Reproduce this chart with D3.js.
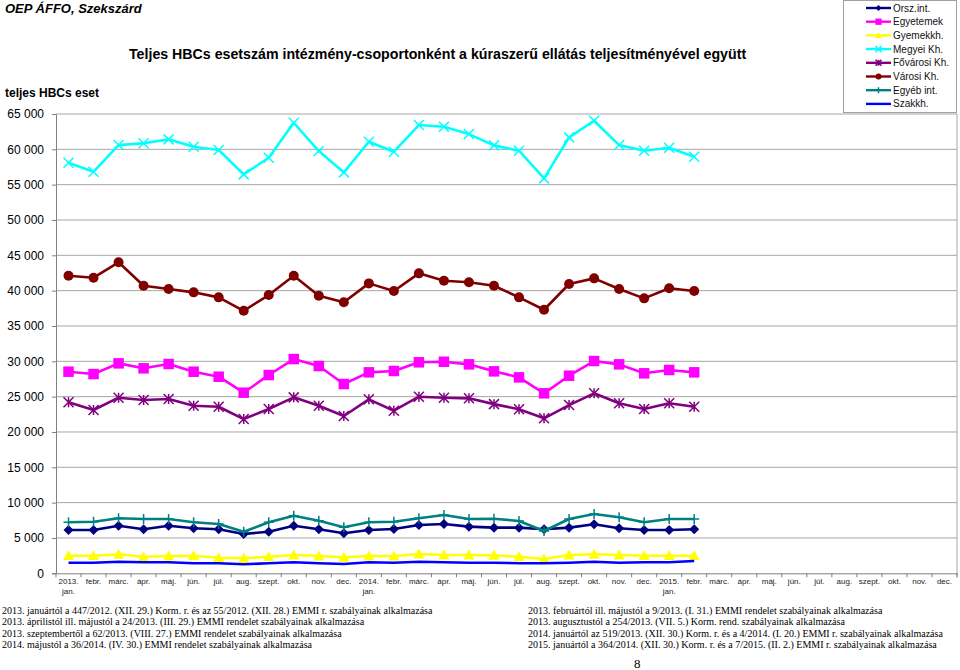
<!DOCTYPE html>
<html>
<head>
<meta charset="utf-8">
<script src="https://cdn.jsdelivr.net/npm/d3@7/dist/d3.min.js"></script>
<style>
  html, body { margin: 0; padding: 0; background: #fff; }
  svg { display: block; }
</style>
</head>
<body>
<svg id="chart" width="960" height="670"></svg>
<script>
// ---- DATA ----
const months = ["2013.|jan.", "febr.", "márc.", "ápr.", "máj.", "jún.", "júl.", "aug.", "szept.", "okt.", "nov.", "dec.",
                "2014.|jan.", "febr.", "márc.", "ápr.", "máj.", "jún.", "júl.", "aug.", "szept.", "okt.", "nov.", "dec.",
                "2015.|jan.", "febr.", "márc.", "ápr.", "máj.", "jún.", "júl.", "aug.", "szept.", "okt.", "nov.", "dec."];

const yTicks = [0, 5000, 10000, 15000, 20000, 25000, 30000, 35000, 40000, 45000, 50000, 55000, 60000, 65000];

const orszInt   = [6130, 6130, 6740, 6230, 6740, 6370, 6230, 5560, 5890, 6740, 6230, 5660, 6130, 6270, 6830, 6980, 6600, 6460, 6460, 6230, 6460, 6930, 6370, 6130, 6130, 6230];
const egyetemek = [28530, 28200, 29710, 29010, 29620, 28530, 27820, 25560, 28060, 30320, 29330, 26790, 28440, 28630, 29860, 29940, 29570, 28580, 27730, 25470, 27960, 30040, 29570, 28300, 28770, 28440];
const gyermekkh = [2490, 2490, 2690, 2350, 2450, 2490, 2210, 2120, 2350, 2590, 2450, 2260, 2450, 2450, 2730, 2590, 2590, 2540, 2350, 2020, 2590, 2690, 2590, 2490, 2490, 2490];
const megyeiKh  = [58100, 56830, 60600, 60850, 61410, 60360, 59900, 56460, 58810, 63760, 59760, 56740, 61070, 59660, 63440, 63190, 62160, 60560, 59800, 55890, 61690, 64040, 60600, 59800, 60220, 58950];
const fovarosiKh= [24200, 23110, 24850, 24520, 24660, 23720, 23570, 21830, 23250, 24900, 23720, 22260, 24620, 23010, 24990, 24850, 24760, 23940, 23210, 21930, 23810, 25470, 24060, 23250, 24060, 23570];
const varosiKh  = [42110, 41830, 44010, 40700, 40230, 39760, 39050, 37150, 39380, 42110, 39280, 38350, 41030, 39950, 42450, 41400, 41180, 40700, 39050, 37300, 40940, 41740, 40230, 38910, 40330, 39950];
const egyebInt  = [7220, 7300, 7780, 7680, 7680, 7220, 6980, 5890, 7220, 8150, 7440, 6510, 7220, 7300, 7780, 8250, 7680, 7730, 7400, 5990, 7680, 8390, 7920, 7220, 7680, 7680];
const szakkh    = [1500, 1500, 1640, 1560, 1560, 1420, 1420, 1270, 1420, 1560, 1420, 1320, 1560, 1500, 1640, 1560, 1500, 1500, 1420, 1420, 1500, 1640, 1500, 1560, 1560, 1740];

const seriesNames = ["Orsz.int.", "Egyetemek", "Gyemekkh.", "Megyei Kh.", "Fővárosi Kh.", "Városi Kh.", "Egyéb int.", "Szakkh."];

const notesLeft = [
  "2013. januártól a 447/2012. (XII. 29.) Korm. r. és az 55/2012. (XII. 28.) EMMI r. szabályainak alkalmazása",
  "2013. áprilistól ill. májustól a 24/2013. (III. 29.) EMMI rendelet szabályainak alkalmazása",
  "2013. szeptembertől a 62/2013. (VIII. 27.) EMMI rendelet szabályainak alkalmazása",
  "2014. májustól a 36/2014. (IV. 30.) EMMI rendelet szabályainak alkalmazása"
];
const notesRight = [
  "2013. februártól ill. májustól a 9/2013. (I. 31.) EMMI rendelet szabályainak alkalmazása",
  "2013. augusztustól a 254/2013. (VII. 5.) Korm. rend. szabályainak alkalmazása",
  "2014. januártól az 519/2013. (XII. 30.) Korm. r. és a 4/2014. (I. 20.) EMMI r. szabályainak alkalmazása",
  "2015. januártól a 364/2014. (XII. 30.) Korm. r. és a 7/2015. (II. 2.) EMMI r. szabályainak alkalmazása"
];

// ---- STYLE ----
const seriesData = [orszInt, egyetemek, gyermekkh, megyeiKh, fovarosiKh, varosiKh, egyebInt, szakkh];
const colors  = ["#000080", "#ff00ff", "#ffff00", "#00ffff", "#800080", "#800000", "#008080", "#0000ff"];
const markers = ["diamond", "square", "triangle", "x", "asterisk", "circle", "plus", "none"];

const svg = d3.select("#chart");
const pL = 56, pR = 957, pT = 114, pB = 573.3;

const x = d3.scaleBand().domain(months.map((m, i) => i)).range([pL, pR]).padding(0);
const y = d3.scaleLinear().domain([0, 65000]).range([pB, pT]);

// gridlines
svg.append("g").selectAll("line").data(yTicks.filter(t => t > 0)).join("line")
  .attr("x1", pL).attr("x2", pR)
  .attr("y1", d => y(d)).attr("y2", d => y(d))
  .attr("stroke", "#a6a6a6").attr("stroke-width", 1);

// right border
svg.append("line").attr("x1", pR).attr("x2", pR).attr("y1", pT).attr("y2", pB + 4)
  .attr("stroke", "#a6a6a6");

// y axis
const fmt = d => d3.format(",")(d).replace(/,/g, " ");
const yAxis = svg.append("g").attr("transform", `translate(${pL},0)`)
  .call(d3.axisLeft(y).tickValues(yTicks).tickFormat(fmt).tickSize(4).tickPadding(8));
yAxis.select(".domain").attr("stroke", "#808080");
yAxis.selectAll(".tick line").attr("stroke", "#808080");
yAxis.selectAll("text").attr("font-family", "Arial, 'Liberation Sans', sans-serif").attr("font-size", 12).attr("fill", "#000");

// x axis
const xAxis = svg.append("g").attr("transform", `translate(0,${pB})`)
  .call(d3.axisBottom(x).tickSize(0).tickFormat(""));
xAxis.select(".domain").attr("stroke", "#808080");
// tick marks at band boundaries
svg.append("g").selectAll("line").data(d3.range(months.length + 1)).join("line")
  .attr("x1", i => pL + i * x.bandwidth()).attr("x2", i => pL + i * x.bandwidth())
  .attr("y1", pB).attr("y2", pB + 4).attr("stroke", "#808080");
// labels
const xl = svg.append("g").selectAll("text").data(months).join("text")
  .attr("x", (d, i) => x(i) + x.bandwidth() / 2)
  .attr("y", pB + 11)
  .attr("text-anchor", "middle")
  .attr("font-family", "Arial, 'Liberation Sans', sans-serif")
  .attr("font-size", 8)
  .attr("fill", "#222");
xl.each(function(d) {
  const parts = d.split("|");
  const t = d3.select(this);
  parts.forEach((p, k) => {
    t.append("tspan").attr("x", t.attr("x")).attr("dy", k === 0 ? 0 : 10).text(p);
  });
});

// lines & markers
const line = d3.line().x((d, i) => x(i) + x.bandwidth() / 2).y(d => y(d));

function drawMarker(g, type, color, cx, cy, s) {
  const r = s / 2;
  if (type === "diamond") {
    g.append("path").attr("d", `M${cx},${cy - r}L${cx + r},${cy}L${cx},${cy + r}L${cx - r},${cy}Z`).attr("fill", color);
  } else if (type === "square") {
    g.append("rect").attr("x", cx - r).attr("y", cy - r).attr("width", s).attr("height", s).attr("fill", color);
  } else if (type === "triangle") {
    g.append("path").attr("d", `M${cx},${cy - r}L${cx + r},${cy + r * 0.8}L${cx - r},${cy + r * 0.8}Z`).attr("fill", color);
  } else if (type === "circle") {
    g.append("circle").attr("cx", cx).attr("cy", cy).attr("r", r).attr("fill", color);
  } else if (type === "x") {
    g.append("path").attr("d", `M${cx - r},${cy - r}L${cx + r},${cy + r}M${cx - r},${cy + r}L${cx + r},${cy - r}`)
      .attr("stroke", color).attr("stroke-width", 1.5);
  } else if (type === "asterisk") {
    g.append("path").attr("d", `M${cx - r},${cy - r}L${cx + r},${cy + r}M${cx - r},${cy + r}L${cx + r},${cy - r}M${cx},${cy - r}L${cx},${cy + r}`)
      .attr("stroke", color).attr("stroke-width", 1.5);
  } else if (type === "plus") {
    g.append("path").attr("d", `M${cx - r},${cy}L${cx + r},${cy}M${cx},${cy - r}L${cx},${cy + r}`)
      .attr("stroke", color).attr("stroke-width", 1.5);
  }
}

const sizes = { diamond: 10, square: 10.5, triangle: 11, circle: 10, x: 10, asterisk: 10, plus: 10, none: 0 };

seriesData.forEach((vals, si) => {
  const g = svg.append("g");
  g.append("path").datum(vals).attr("d", line)
    .attr("fill", "none").attr("stroke", colors[si]).attr("stroke-width", 2.6).attr("stroke-linejoin", "round");
  vals.forEach((v, i) => drawMarker(g, markers[si], colors[si], x(i) + x.bandwidth() / 2, y(v), sizes[markers[si]]));
});

// legend
const lg = svg.append("g");
lg.append("rect").attr("x", 843.5).attr("y", 0.5).attr("width", 113).attr("height", 112)
  .attr("fill", "#fff").attr("stroke", "#a0a0a0");
seriesNames.forEach((n, i) => {
  const ly = 8 + i * 13.7;
  lg.append("line").attr("x1", 866).attr("x2", 891).attr("y1", ly).attr("y2", ly)
    .attr("stroke", colors[i]).attr("stroke-width", 2.4);
  drawMarker(lg, markers[i], colors[i], 878.5, ly, sizes[markers[i]] * 0.6);
  lg.append("text").attr("x", 893).attr("y", ly + 3.5).text(n)
    .attr("font-family", "Arial, 'Liberation Sans', sans-serif").attr("font-size", 10).attr("fill", "#111");
});

// titles
svg.append("text").attr("x", 5).attr("y", 13).text("OEP ÁFFO, Szekszárd")
  .attr("font-family", "Arial, 'Liberation Sans', sans-serif").attr("font-size", 13)
  .attr("font-weight", "bold").attr("font-style", "italic");
svg.append("text").attr("x", 129).attr("y", 59)
  .text("Teljes HBCs esetszám intézmény-csoportonként a kúraszerű ellátás teljesítményével együtt")
  .attr("font-family", "Arial, 'Liberation Sans', sans-serif").attr("font-size", 14.2).attr("font-weight", "bold");
svg.append("text").attr("x", 5).attr("y", 97).text("teljes HBCs eset")
  .attr("font-family", "Arial, 'Liberation Sans', sans-serif").attr("font-size", 12).attr("font-weight", "bold");

// footnotes
const noteFont = "'Times New Roman', 'Liberation Serif', serif";
notesLeft.forEach((t, i) => {
  svg.append("text").attr("x", 2).attr("y", 614 + i * 11.4).text(t)
    .attr("font-family", noteFont).attr("font-size", 10);
});
notesRight.forEach((t, i) => {
  svg.append("text").attr("x", 528).attr("y", 614 + i * 11.4).text(t)
    .attr("font-family", noteFont).attr("font-size", 10);
});
svg.append("text").attr("x", 634).attr("y", 668).text("8")
  .attr("font-family", noteFont).attr("font-size", 13);
</script>
</body>
</html>
